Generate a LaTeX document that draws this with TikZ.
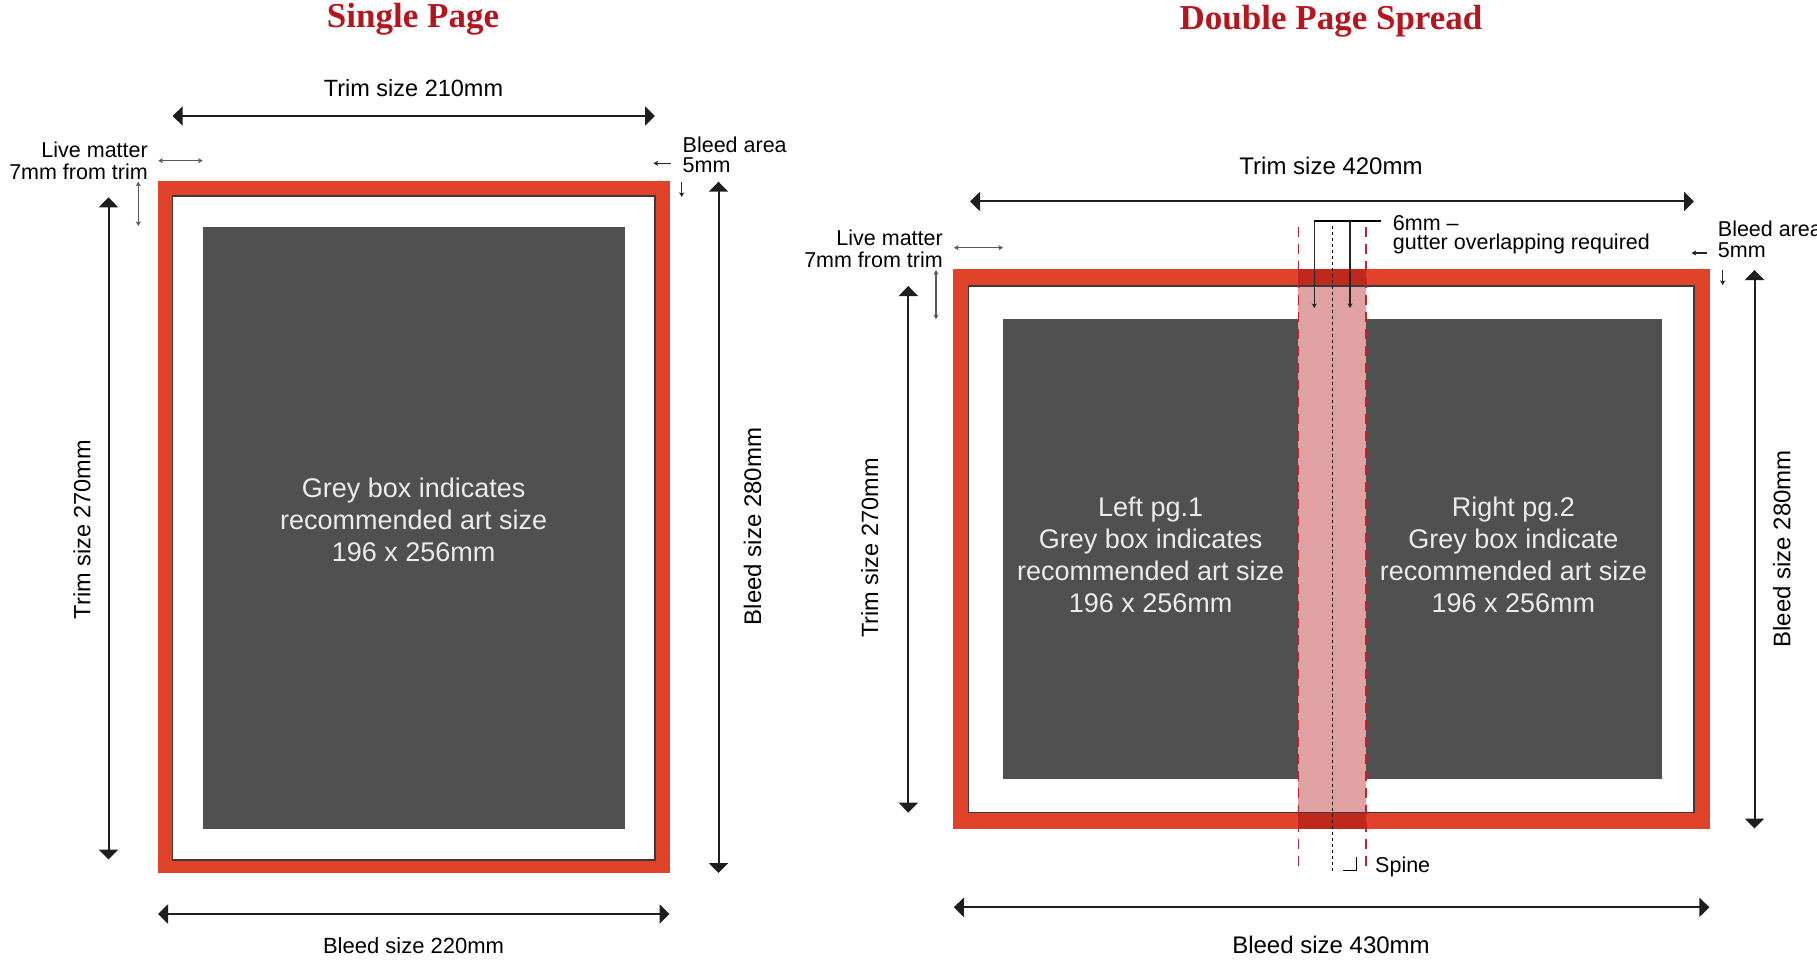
\documentclass[tikz,border=0pt]{standalone}
\usepackage{fontspec}
\setmainfont{Liberation Sans}
\newfontfamily\titlefont{Liberation Serif}
\usetikzlibrary{arrows.meta}
\definecolor{bleedred}{HTML}{E1432A}
\definecolor{artgrey}{HTML}{505050}
\definecolor{gutterpink}{HTML}{E0A1A3}
\definecolor{gutterdark}{HTML}{C0281C}
\definecolor{titlered}{HTML}{B5161E}
\definecolor{dimline}{HTML}{1E1E1E}
\definecolor{cutred}{HTML}{C8202A}
\definecolor{trimgrey}{HTML}{3A3A3A}
\tikzset{
  bigtip/.tip={Triangle[length=10pt,width=19pt]},
  smalltip/.tip={Stealth[length=4.5pt,width=5pt,inset=1pt]},
  dimarrow/.style={draw=dimline, line width=2pt, bigtip-bigtip},
  smallarrow/.style={draw=black!65, line width=1.1pt, smalltip-smalltip},
  smallhead/.style={draw=black!85, line width=1.1pt, -smalltip},
  trimline/.style={draw=trimgrey, line width=1.6pt},
  cutline/.style={draw=cutred, line width=1.6pt, dash pattern=on 10pt off 7pt},
  spineline/.style={draw=black, line width=1pt, dash pattern=on 3pt off 3pt},
  titletext/.style={font=\titlefont\bfseries\fontsize{35}{40}\selectfont, text=titlered, inner sep=0pt, anchor=base},
  dimtext/.style={font=\fontsize{23.5}{28}\selectfont, text=black, inner sep=0pt},
  notetext/.style={font=\fontsize{21.5}{24}\selectfont, text=black, inner sep=0pt},
  arttext/.style={font=\fontsize{27}{32}\selectfont, text=white!92!black, align=center, inner sep=0pt},
}
\begin{document}
\begin{tikzpicture}[x=1pt,y=-1pt]
\useasboundingbox[fill=white] (0,0) rectangle (1817,960);

%%%%%%%%%%%%%%%% SINGLE PAGE %%%%%%%%%%%%%%%%
\node[titletext] (t1) at (413,28) {Single Page};

\fill[bleedred] (157.7,181.5) rectangle (670,873.3);
\fill[white] (172.3,196) rectangle (655,860);
\draw[trimline] (172.3,196) rectangle (655,860);
\fill[artgrey] (202.7,227.3) rectangle (625,829);
\node[arttext] (art1) at (413.7,519.7) {Grey box indicates\\recommended art size\\196 x 256mm};

% dimension arrows
\coordinate (sTL) at (172.6,116);  \coordinate (sTR) at (655,116);
\draw[dimarrow] (sTL) -- (sTR);
\node[dimtext, anchor=base] (sTrimW) at (413.5,97) {Trim size 210mm};

\coordinate (sBL) at (158,914);  \coordinate (sBR) at (669.5,914);
\draw[dimarrow] (sBL) -- (sBR);
\node[dimtext, anchor=base, font=\fontsize{22}{26}\selectfont] (sBleedW) at (413.5,953) {Bleed size 220mm};

\coordinate (sVT) at (108.5,197.3); \coordinate (sVB) at (108.5,859.5);
\draw[dimarrow] (sVT) -- (sVB);
\node[dimtext, rotate=90] (sTrimH) at (82,529.6) {Trim size 270mm};

\coordinate (sWT) at (718.5,181.7); \coordinate (sWB) at (718.5,873);
\draw[dimarrow] (sWT) -- (sWB);
\node[dimtext, rotate=90, font=\fontsize{24}{28}\selectfont] (sBleedH) at (752.6,526.5) {Bleed size 280mm};

% live matter
\node[notetext, anchor=base east] (sLive1) at (148,158) {Live matter};
\node[notetext, anchor=base east] (sLive2) at (148,180) {7mm from trim};
\coordinate (sLa) at (158.3,160.7); \coordinate (sLb) at (202.7,160.7);
\draw[smallarrow] (sLa) -- (sLb);
\coordinate (sLc) at (138.3,181.7); \coordinate (sLd) at (138.3,226);
\draw[smallarrow] (sLc) -- (sLd);

% bleed area
\node[notetext, anchor=base west] (sBl1) at (682.5,153) {Bleed area};
\node[notetext, anchor=base west] (sBl2) at (682.5,173) {5mm};
\coordinate (sBa) at (670.7,163.3); \coordinate (sBb) at (653.5,163.3);
\draw[smallhead] (sBa) -- (sBb);
\coordinate (sBc) at (681.7,182.5); \coordinate (sBd) at (681.7,197);
\draw[smallhead] (sBc) -- (sBd);

%%%%%%%%%%%%%%%% DOUBLE PAGE SPREAD %%%%%%%%%%%%%%%%
\node[titletext] (t2) at (1331,30) {Double Page Spread};

\fill[bleedred] (953,269) rectangle (1710,829);
\fill[white] (968.3,286) rectangle (1694,812.5);
\fill[artgrey] (1003.3,319) rectangle (1298.3,779);
\fill[artgrey] (1365.7,319) rectangle (1662,779);
% gutter band
\fill[gutterpink] (1298.3,286) rectangle (1365.7,812.5);
\fill[gutterdark] (1298.3,269) rectangle (1365.7,286);
\fill[gutterdark] (1298.3,812.5) rectangle (1365.7,829);
\draw[trimline] (968.3,286) rectangle (1694,812.5);

\node[arttext] (artL) at (1150.7,555.1) {Left pg.1\\Grey box indicates\\recommended art size\\196 x 256mm};
\node[arttext] (artR) at (1513.4,555.1) {Right pg.2\\Grey box indicate\\recommended art size\\196 x 256mm};

% cut lines and spine
\coordinate (cLt) at (1298.3,226.7); \coordinate (cLb) at (1298.3,871.7);
\coordinate (cRt) at (1365.7,226.7); \coordinate (cRb) at (1365.7,871.7);
\draw[cutline] (cLt) -- (cLb);
\draw[cutline] (cRt) -- (cRb);
\coordinate (spT) at (1332.7,225.7); \coordinate (spB) at (1332.7,871.7);
\draw[spineline] (spT) -- (spB);

% gutter bracket
\coordinate (gA) at (1314.3,221); \coordinate (gB) at (1350,221); \coordinate (gE) at (1380.7,221);
\coordinate (gA2) at (1314.3,308); \coordinate (gB2) at (1350,308);
\draw[black, line width=1.1pt] (gA) -- (gE);
\draw[smallhead] (gA) -- (gA2);
\draw[smallhead] (gB) -- (gB2);
\node[notetext, anchor=base west] (g1) at (1392.7,230) {6mm –};
\node[notetext, anchor=base west] (g2) at (1392.7,249.5) {gutter overlapping required};

% spine label
\coordinate (spm1) at (1343,870.7); \coordinate (spm2) at (1356.7,857);
\draw[black, line width=1.1pt] (spm1) -| (spm2);
\node[notetext, anchor=base west] (spine) at (1375,872) {Spine};

% dimension arrows
\coordinate (dTL) at (970,201.5); \coordinate (dTR) at (1694,201.5);
\draw[dimarrow] (dTL) -- (dTR);
\node[dimtext, anchor=base, font=\fontsize{24}{28}\selectfont] (dTrimW) at (1331,175) {Trim size 420mm};

\coordinate (dBL) at (953.8,907.3); \coordinate (dBR) at (1709.4,907.3);
\draw[dimarrow] (dBL) -- (dBR);
\node[dimtext, anchor=base, font=\fontsize{24}{28}\selectfont] (dBleedW) at (1331,953) {Bleed size 430mm};

\coordinate (dVT) at (908.3,286); \coordinate (dVB) at (908.3,812.7);
\draw[dimarrow] (dVT) -- (dVB);
\node[dimtext, rotate=90] (dTrimH) at (869.7,548) {Trim size 270mm};

\coordinate (dWT) at (1754.5,270); \coordinate (dWB) at (1754.5,828.5);
\draw[dimarrow] (dWT) -- (dWB);
\node[dimtext, rotate=90, font=\fontsize{24}{28}\selectfont] (dBleedH) at (1781.7,548.7) {Bleed size 280mm};

% live matter
\node[notetext, anchor=base east] (dLive1) at (943,245) {Live matter};
\node[notetext, anchor=base east] (dLive2) at (943,267) {7mm from trim};
\coordinate (dLa) at (954,247.7); \coordinate (dLb) at (1003,247.7);
\draw[smallarrow] (dLa) -- (dLb);
\coordinate (dLc) at (936,270); \coordinate (dLd) at (936,319.3);
\draw[smallarrow] (dLc) -- (dLd);

% bleed area
\node[notetext, anchor=base west] (dBl1) at (1717.7,236.7) {Bleed area};
\node[notetext, anchor=base west] (dBl2) at (1717.7,257) {5mm};
\coordinate (dBa) at (1706.7,253); \coordinate (dBb) at (1691.5,253);
\draw[smallhead] (dBa) -- (dBb);
\coordinate (dBc) at (1722.7,269.5); \coordinate (dBd) at (1722.7,285);
\draw[smallhead] (dBc) -- (dBd);
\end{tikzpicture}
\end{document}
